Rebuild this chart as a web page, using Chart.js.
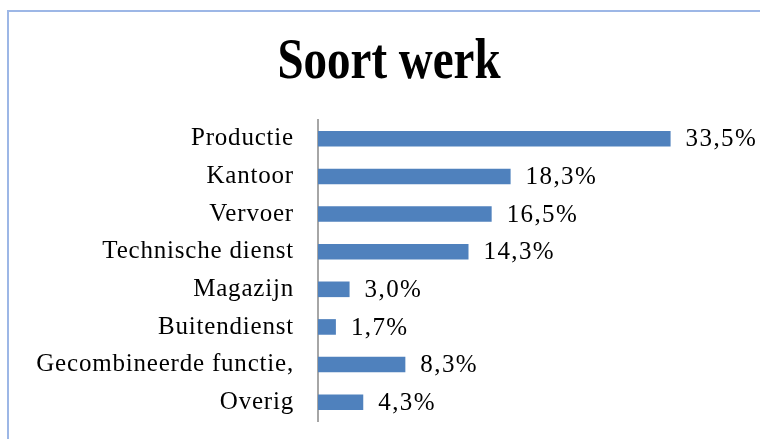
<!DOCTYPE html>
<html>
<head>
<meta charset="utf-8">
<script src="https://cdn.jsdelivr.net/npm/chart.js@4/dist/chart.umd.min.js"></script>
<style>
html,body{margin:0;padding:0;background:#fff;}
#wrap{width:760px;height:439px;position:relative;}
</style>
</head>
<body>
<div id="wrap"><canvas id="c" width="760" height="439"></canvas></div>
<script>
const categories = ["Productie","Kantoor","Vervoer","Technische dienst","Magazijn","Buitendienst","Gecombineerde functie,","Overig"];
const values = [33.5, 18.3, 16.5, 14.3, 3.0, 1.7, 8.3, 4.3];
const titleText = "Soort werk";

const frame = {
  id: 'frame',
  beforeDraw(chart) {
    const ctx = chart.ctx;
    ctx.save();
    ctx.fillStyle = '#ffffff';
    ctx.fillRect(0, 0, chart.width, chart.height);
    ctx.strokeStyle = '#9db7e6';
    ctx.lineWidth = 2;
    ctx.beginPath();
    ctx.moveTo(8, chart.height + 5);
    ctx.lineTo(8, 11);
    ctx.lineTo(chart.width + 5, 11);
    ctx.stroke();
    // title, slightly tall like the original
    ctx.fillStyle = '#000';
    ctx.font = 'bold 47px "Liberation Serif"';
    ctx.textAlign = 'center';
    ctx.textBaseline = 'alphabetic';
    ctx.translate(389, 78);
    ctx.scale(1, 1.2);
    ctx.fillText(titleText, 0, 0);
    ctx.restore();
    ctx.letterSpacing = '0.8px';
  }
};

const valueLabels = {
  id: 'valueLabels',
  afterDatasetsDraw(chart) {
    const ctx = chart.ctx;
    const meta = chart.getDatasetMeta(0);
    ctx.save();
    ctx.font = '25px "Liberation Serif"';
    ctx.letterSpacing = '1.4px';
    ctx.fillStyle = '#000';
    ctx.textAlign = 'left';
    ctx.textBaseline = 'middle';
    meta.data.forEach((bar, i) => {
      const txt = values[i].toFixed(1).replace('.', ',') + '%';
      ctx.fillText(txt, bar.x + 15, bar.y + 1);
    });
    ctx.restore();
  }
};

new Chart(document.getElementById('c'), {
  type: 'bar',
  data: {
    labels: categories,
    datasets: [{
      data: values,
      backgroundColor: '#4f81bd',
      borderWidth: 0,
      categoryPercentage: 1.0,
      barPercentage: 0.415
    }]
  },
  options: {
    indexAxis: 'y',
    responsive: false,
    animation: false,
    layout: { padding: { left: 18, right: 21, top: 120, bottom: 18 } },
    plugins: {
      legend: { display: false },
      tooltip: { enabled: false },
      title: { display: false }
    },
    scales: {
      x: {
        display: false,
        min: 0,
        max: 40
      },
      y: {
        grid: { display: false, drawTicks: false },
        border: { display: true, color: '#a6a6a6', width: 2 },
        ticks: {
          color: '#000',
          padding: 24,
          font: { family: '"Liberation Serif"', size: 25 }
        },
        afterFit(scale) {
          scale.width = 300;
          scale.paddingTop = 0;
          scale.paddingBottom = 0;
        }
      }
    }
  },
  plugins: [frame, valueLabels]
});
</script>
</body>
</html>
